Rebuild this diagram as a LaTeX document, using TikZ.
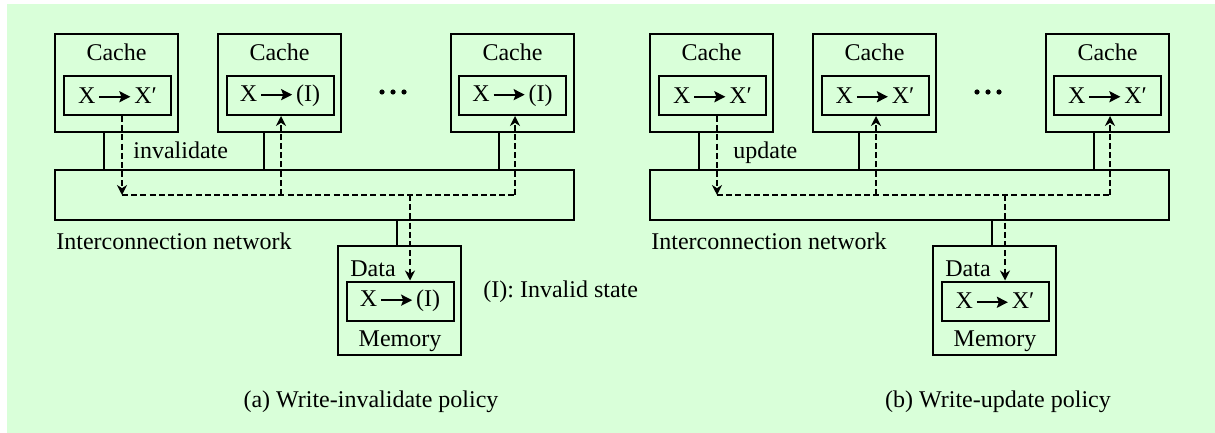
\documentclass[tikz,border=0pt]{standalone}
\usepackage{fontspec}
\setmainfont{Liberation Serif}
\usepackage{tikz}
\usetikzlibrary{positioning,arrows.meta}

\definecolor{panelgreen}{RGB}{217,255,217}

\tikzset{
  box/.style={draw, line width=1pt, inner sep=0pt, minimum width=61.5pt},
  cachebox/.style={box, minimum height=49pt},
  memorybox/.style={box, minimum height=54.5pt},
  statebox/.style={draw, line width=1pt, inner sep=0pt, minimum width=53.5pt, minimum height=19.5pt},
  netbox/.style={draw, line width=1pt, minimum width=259.5pt, minimum height=25pt},
  txt/.style={inner sep=0pt, anchor=base},
  link/.style={line width=1pt},
  busline/.style={line width=0.7pt, dash pattern=on 3pt off 1.6pt},
  msg/.style={busline, -{Stealth[length=5pt,width=5pt,inset=1.6pt]}}
}

% thick arrow used inside the state boxes
\newcommand{\goesto}{\hspace{1.5pt}\tikz[baseline=-0.6ex]\draw[line width=1pt,-{Stealth[length=5.5pt,width=5.5pt,inset=1pt]}] (0pt,0pt) -- (15.5pt,0pt);\hspace{1.5pt}}

\begin{document}
\begin{tikzpicture}[x=0.5pt,y=-0.5pt,font=\fontsize{12}{14}\selectfont]
  \useasboundingbox (0,0) rectangle (1215,433);
  \fill[panelgreen] (7,4) rectangle (1215,433);

  % (a) write-invalidate
  \node[cachebox] (a1) at (116.5,83) {};
  \node[cachebox] (a2) at (279.5,83) {};
  \node[cachebox] (a3) at (512.5,83) {};
  \foreach \c in {a1,a2,a3}
    \node[txt] (\c-t) at ([yshift=-14pt]\c.north) {Cache};
  \node[statebox] (a1s) at (117.5,95.5) {X\goesto X′};
  \node[statebox] (a2s) at (280,95.5) {X\goesto(I)};
  \node[statebox] (a3s) at (512.5,95.5) {X\goesto(I)};
  \foreach \i in {0,1,2}
    \fill (382+11*\i,92) circle (1.3pt);

  \node[netbox] (an) at (314.5,195) {};
  \node[txt, anchor=base west] (an-t) at (56,249) {Interconnection network};

  \node[memorybox] (am) at (399.5,300.5) {};
  \node[txt, anchor=base west] (am-d) at (350,276) {Data};
  \node[statebox] (ams) at (400,301) {X\goesto(I)};
  \node[txt] (am-t) at (400,346) {Memory};

  \draw[link] (104,0 |- a1.south) -- (104,0 |- an.north);
  \draw[link] (264,0 |- a2.south) -- (264,0 |- an.north);
  \draw[link] (499,0 |- a3.south) -- (499,0 |- an.north);
  \draw[link] (397,0 |- an.south) -- (397,0 |- am.north);

  \coordinate (aj1) at (122,195);
  \coordinate (aj2) at (281,195);
  \coordinate (ajm) at (410,195);
  \coordinate (aj3) at (515,195);
  \draw[msg] (aj1 |- a1s.south) -- (aj1);
  \draw[busline] (aj1) -- (aj3);
  \draw[msg] (aj2) -- (aj2 |- a2s.south);
  \draw[msg] (aj3) -- (aj3 |- a3s.south);
  \draw[msg] (ajm) -- (ajm |- ams.north);
  \node[txt, anchor=base west] (a-inv) at (133,158) {invalidate};

  \node[txt, anchor=base west] (a-key) at (483,297) {(I): Invalid state};
  \node[txt] (a-cap) at (371,407) {(a) Write-invalidate policy};

  % (b) write-update
  \begin{scope}[shift={(595,0)}]
    \node[cachebox] (b1) at (116.5,83) {};
    \node[cachebox] (b2) at (279.5,83) {};
    \node[cachebox] (b3) at (512.5,83) {};
    \foreach \c in {b1,b2,b3}
      \node[txt] (\c-t) at ([yshift=-14pt]\c.north) {Cache};
    \node[statebox] (b1s) at (117.5,95.5) {X\goesto X′};
    \node[statebox] (b2s) at (280,95.5) {X\goesto X′};
    \node[statebox] (b3s) at (512.5,95.5) {X\goesto X′};
    \foreach \i in {0,1,2}
      \fill (382+11*\i,92) circle (1.3pt);

    \node[netbox] (bn) at (314.5,195) {};
    \node[txt, anchor=base west] (bn-t) at (56,249) {Interconnection network};

    \node[memorybox] (bm) at (399.5,300.5) {};
    \node[txt, anchor=base west] (bm-d) at (350,276) {Data};
    \node[statebox] (bms) at (400,301) {X\goesto X′};
    \node[txt] (bm-t) at (400,346) {Memory};

    \draw[link] (104,0 |- b1.south) -- (104,0 |- bn.north);
    \draw[link] (264,0 |- b2.south) -- (264,0 |- bn.north);
    \draw[link] (499,0 |- b3.south) -- (499,0 |- bn.north);
    \draw[link] (397,0 |- bn.south) -- (397,0 |- bm.north);

    \coordinate (bj1) at (122,195);
    \coordinate (bj2) at (281,195);
    \coordinate (bjm) at (410,195);
    \coordinate (bj3) at (515,195);
    \draw[msg] (bj1 |- b1s.south) -- (bj1);
    \draw[busline] (bj1) -- (bj3);
    \draw[msg] (bj2) -- (bj2 |- b2s.south);
    \draw[msg] (bj3) -- (bj3 |- b3s.south);
    \draw[msg] (bjm) -- (bjm |- bms.north);
    \node[txt, anchor=base west] (b-upd) at (138,158) {update};

    \node[txt] (b-cap) at (403,407) {(b) Write-update policy};
  \end{scope}
\end{tikzpicture}
\end{document}
